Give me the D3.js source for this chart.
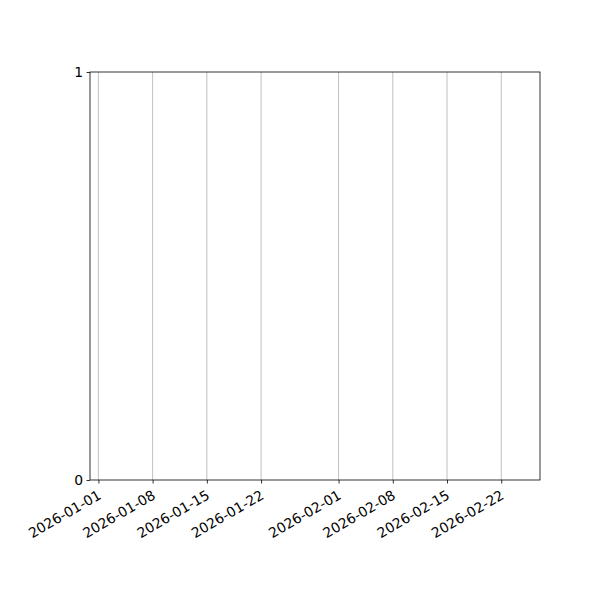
<!DOCTYPE html>
<html><head><meta charset="utf-8">
<script src="https://cdn.jsdelivr.net/npm/d3@7"></script>
<style>body{margin:0;background:#fff}svg{display:block}</style>
</head><body>
<svg id="c" width="600" height="600"></svg>
<script>
const xDomain = ["2025-12-30T22:00:00Z", "2026-02-27T00:00:00Z"];
const xTickLabels = ["2026-01-01","2026-01-08","2026-01-15","2026-01-22","2026-02-01","2026-02-08","2026-02-15","2026-02-22"];
const yDomain = [0, 1];
const yTickValues = [0, 1];

const svg = d3.select("#c");
const L = 90, R = 540, T = 72, B = 480;
const x = d3.scaleUtc().domain(xDomain.map(d => new Date(d))).range([L, R]);
const y = d3.scaleLinear().domain(yDomain).range([B, T]);
const tickDates = xTickLabels.map(s => new Date(s + "T00:00:00Z"));
const font = "DejaVu Sans, sans-serif";

// grid
svg.append("g").selectAll("line").data(tickDates).join("line")
  .attr("x1", d => x(d)).attr("x2", d => x(d))
  .attr("y1", T).attr("y2", B)
  .attr("stroke", "#b0b0b0").attr("stroke-width", 0.8);

// x axis
const xa = svg.append("g").attr("transform", `translate(0,${B})`)
  .call(d3.axisBottom(x).tickValues(tickDates).tickSize(3.5).tickPadding(3.5)
    .tickFormat(d3.utcFormat("%Y-%m-%d")));
xa.select(".domain").remove();
xa.selectAll("line").attr("stroke", "#000").attr("stroke-width", 0.8);
xa.selectAll("text").attr("font-family", font).attr("font-size", 13.9).attr("fill", "#000")
  .attr("text-anchor", "end").attr("dy", null).attr("y", 0)
  .attr("transform", "translate(-2,9) rotate(-30)")
  .attr("dominant-baseline", "hanging");

// y axis
const ya = svg.append("g").attr("transform", `translate(${L},0)`)
  .call(d3.axisLeft(y).tickValues(yTickValues).tickSize(3.5).tickPadding(3.5).tickFormat(d3.format("d")));
ya.select(".domain").remove();
ya.selectAll("line").attr("stroke", "#000").attr("stroke-width", 0.8);
ya.selectAll("text").attr("font-family", font).attr("font-size", 13.9).attr("fill", "#000");

// frame
svg.append("rect").attr("x", L).attr("y", T).attr("width", R - L).attr("height", B - T)
  .attr("fill", "none").attr("stroke", "#000").attr("stroke-width", 0.8);
</script>
</body></html>
